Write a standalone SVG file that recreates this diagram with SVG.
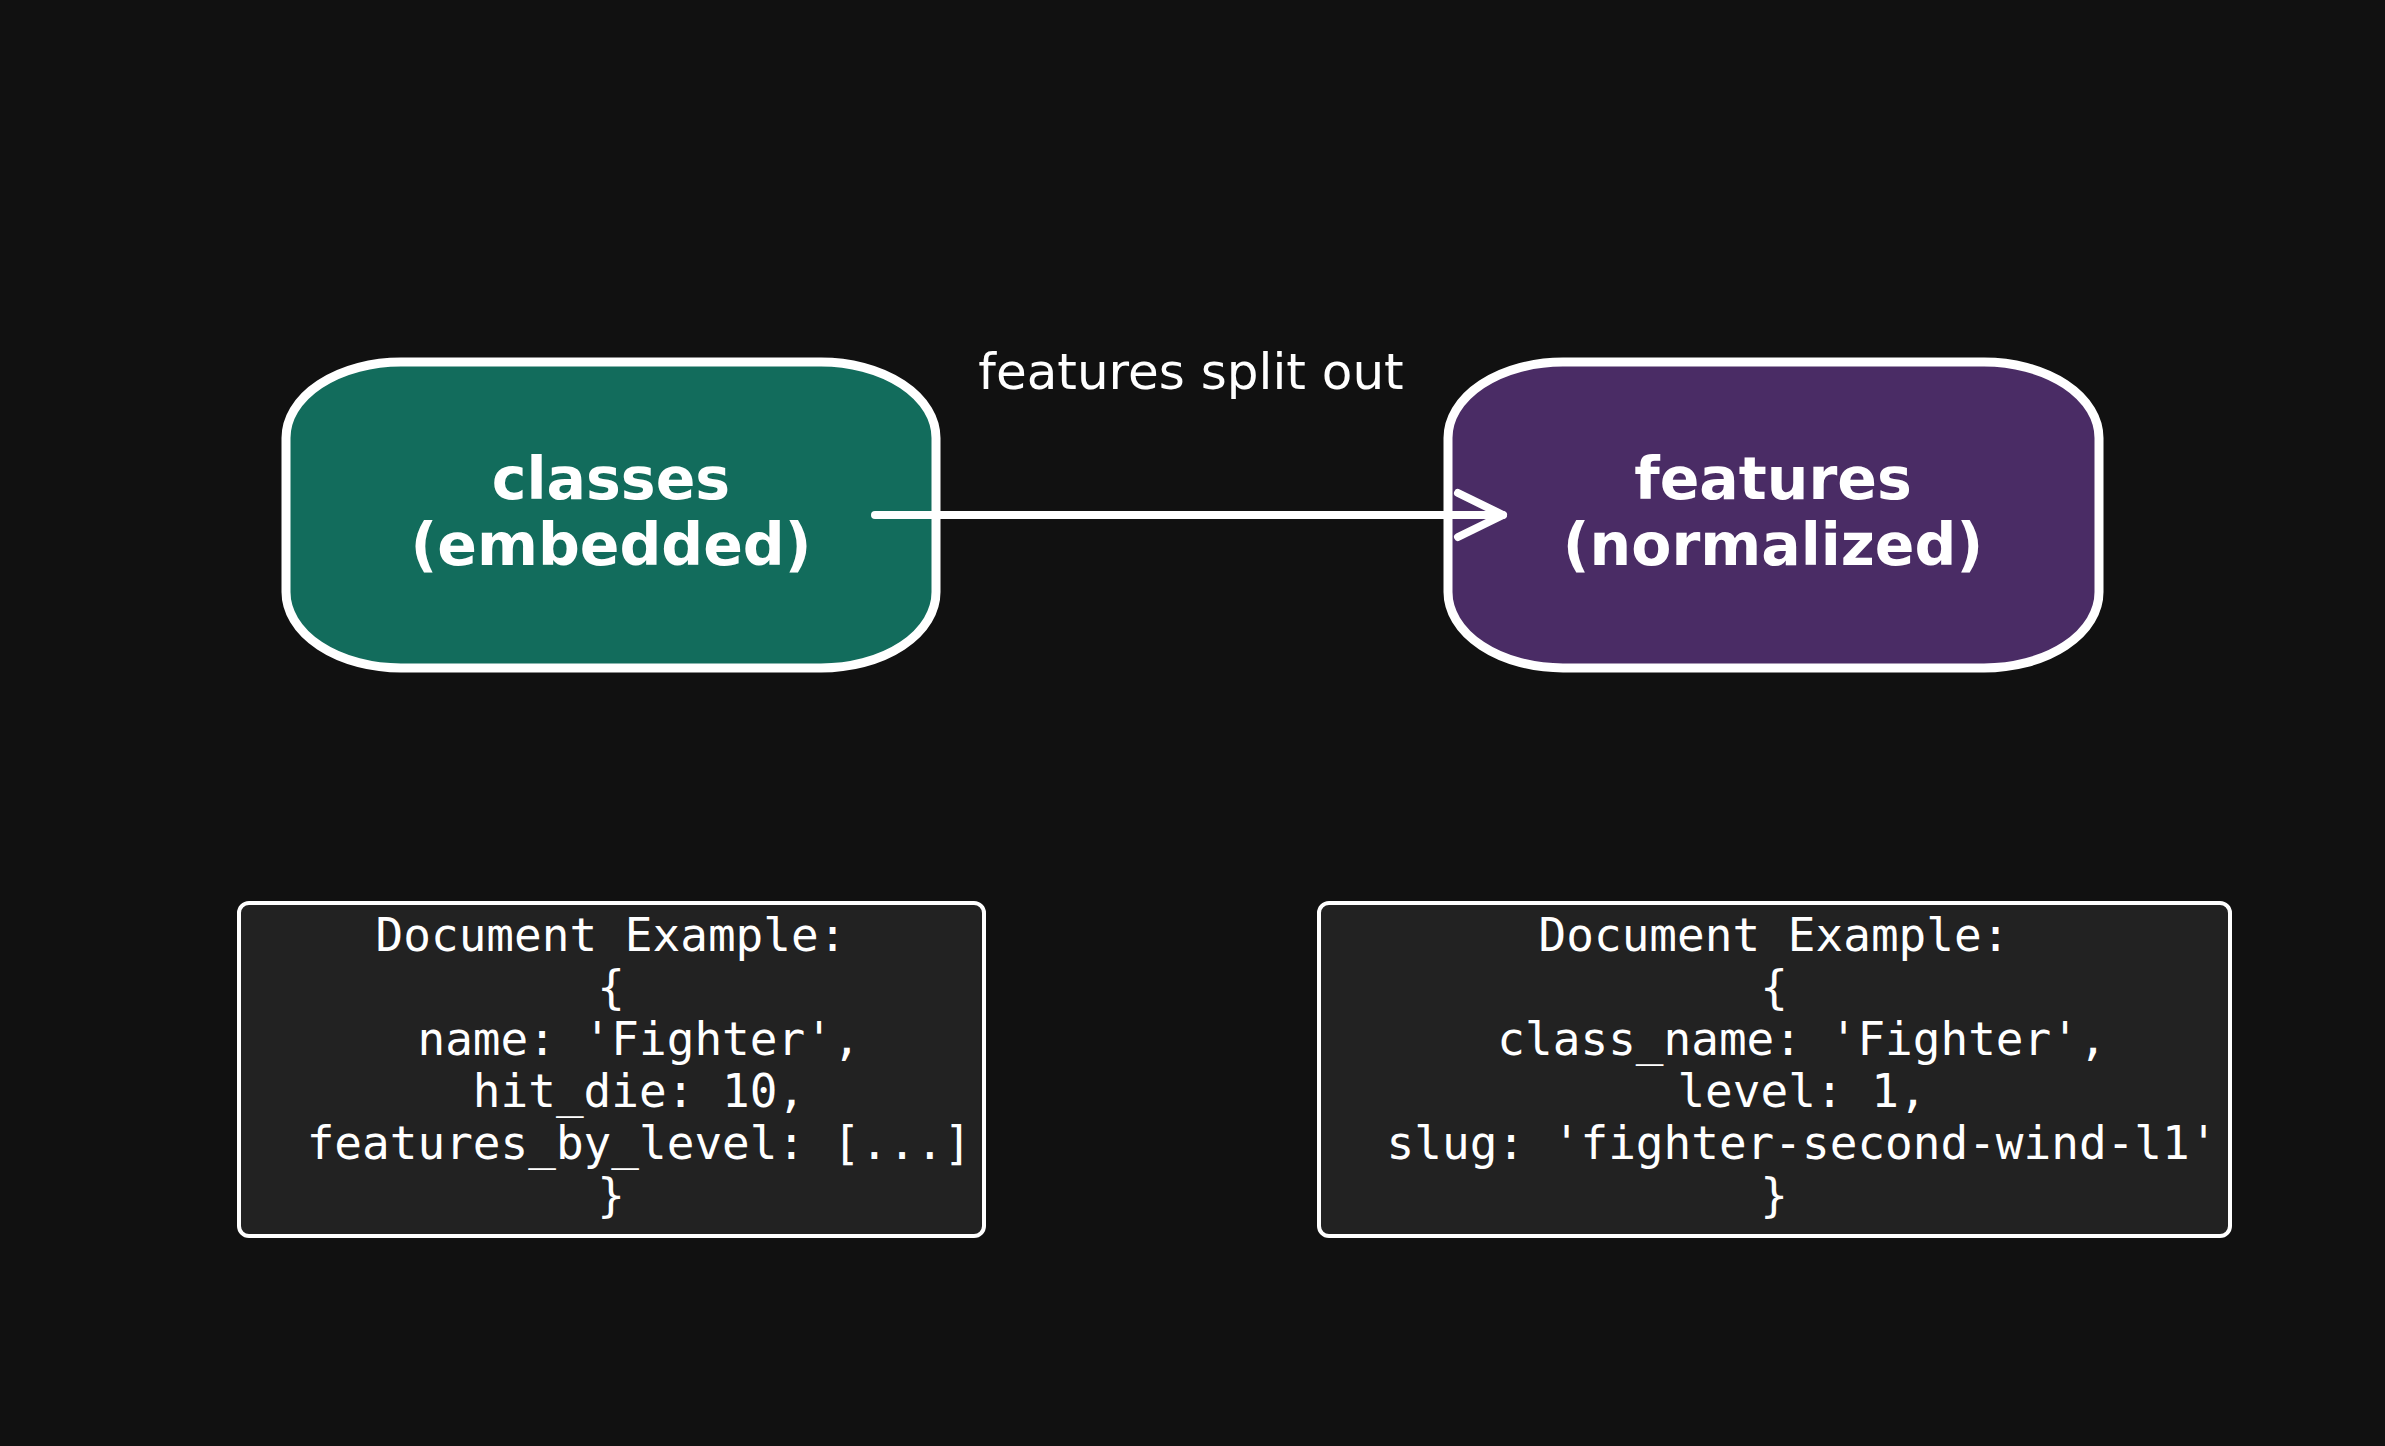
<svg xmlns="http://www.w3.org/2000/svg" width="2385" height="1446" viewBox="0 0 2385 1446">
<defs>
<style>
.node{stroke:#ffffff;stroke-width:9}
.nt{font-family:"DejaVu Sans","Liberation Sans",sans-serif;font-weight:bold;font-size:58.5px;fill:#ffffff;text-anchor:middle}
.lbl{font-family:"DejaVu Sans","Liberation Sans",sans-serif;font-size:50px;fill:#ffffff;text-anchor:middle}
.doc{fill:#222222;stroke:#ffffff;stroke-width:4}
.mono{font-family:"DejaVu Sans Mono","Liberation Mono",monospace;font-size:46px;fill:#ffffff;text-anchor:middle}
.edge{fill:none;stroke:#ffffff;stroke-width:8;stroke-linecap:round;stroke-linejoin:round}
</style>
</defs>
<rect width="2385" height="1446" fill="#111111"/>
<g id="node-classes">
<rect class="node" x="286" y="362" width="650" height="306" rx="115" ry="76" fill="#126c5c"/>
<text class="nt" x="611" y="499">classes</text>
<text class="nt" x="611" y="565">(embedded)</text>
</g>
<g id="node-features">
<rect class="node" x="1448" y="362" width="651" height="306" rx="115" ry="76" fill="#4a2c65"/>
<text class="nt" x="1773" y="499">features</text>
<text class="nt" x="1773" y="565">(normalized)</text>
</g>
<g id="connectors">
<path class="edge" d="M875 515 L1503 515"/>
<path class="edge" d="M1458 493 L1503 515 L1458 537"/>
<text class="lbl" x="1191" y="389">features split out</text>
</g>
<g id="doc-classes">
<rect class="doc" x="239" y="903" width="745" height="333" rx="10"/>
<text class="mono" x="611" y="951">Document Example:</text>
<text class="mono" x="611" y="1003">{</text>
<text class="mono" x="639" y="1055">name: 'Fighter',</text>
<text class="mono" x="639" y="1107">hit_die: 10,</text>
<text class="mono" x="639" y="1159">features_by_level: [...]</text>
<text class="mono" x="611" y="1211">}</text>
</g>
<g id="doc-features">
<rect class="doc" x="1319" y="903" width="911" height="333" rx="10"/>
<text class="mono" x="1774" y="951">Document Example:</text>
<text class="mono" x="1774" y="1003">{</text>
<text class="mono" x="1802" y="1055">class_name: 'Fighter',</text>
<text class="mono" x="1802" y="1107">level: 1,</text>
<text class="mono" x="1802" y="1159">slug: 'fighter-second-wind-l1'</text>
<text class="mono" x="1774" y="1211">}</text>
</g>
</svg>
